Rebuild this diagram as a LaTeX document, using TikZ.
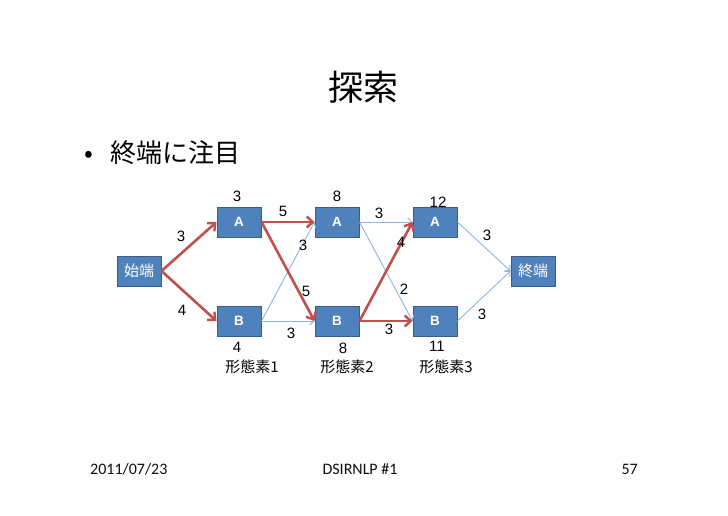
\documentclass[tikz,border=0pt]{standalone}
\usepackage{fontspec}
\setmainfont{Liberation Sans}
\newfontfamily\jp{Noto Sans CJK JP}
\newfontfamily\foot{Carlito}
\usetikzlibrary{arrows.meta}
\definecolor{boxfill}{HTML}{4F81BD}
\definecolor{boxline}{HTML}{385D8A}
\definecolor{redline}{HTML}{C0504D}
\definecolor{blueline}{HTML}{8EB4E3}
\tikzset{
  wbox/.style={draw=boxline, line width=1pt, fill=boxfill, minimum width=44pt, minimum height=30pt, inner sep=0pt, text=white},
  abbox/.style={wbox, font=\bfseries\fontsize{13.5}{13.5}\selectfont},
  endbox/.style={wbox, font=\jp\fontsize{15}{15}\selectfont},
  hot/.style={draw=redline, line width=2.6pt, -{Straight Barb[length=6pt,width=11pt,line width=2.4pt]}},
  cold/.style={draw=blueline, line width=0.9pt, -{Straight Barb[length=4pt,width=8pt]}},
  num/.style={font=\fontsize{15}{15}\selectfont, inner sep=0pt},
  lbl/.style={font=\jp\fontsize{15}{15}\selectfont, inner sep=0pt},
  ft/.style={font=\foot\fontsize{16}{16}\selectfont, inner sep=0pt, text=black!95}
}
\begin{document}
\begin{tikzpicture}[x=1pt,y=-1pt]
\useasboundingbox[fill=white] (0,0) rectangle (728,515);
% title and bullet
\node[font=\jp\fontsize{35}{35}\selectfont, inner sep=0pt] (title) at (363,87) {探索};
\node[font=\jp\fontsize{26}{26}\selectfont, inner sep=0pt, anchor=west] (bul) at (84,153) {•\hspace{17pt}終端に注目};
% nodes
\node[endbox] (s) at (139,271) {始端};
\node[abbox] (a1) at (239,222) {A};
\node[abbox] (b1) at (239,321) {B};
\node[abbox] (a2) at (337,222) {A};
\node[abbox] (b2) at (337,321) {B};
\node[abbox] (a3) at (435,222) {A};
\node[abbox] (b3) at (435,321) {B};
\node[endbox] (e) at (533,271) {終端};
% thin edges
\draw[cold] (b1.east) -- (a2.west);
\draw[cold] (b1.east) -- (b2.west);
\draw[cold] (a2.east) -- (a3.west);
\draw[cold] (a2.east) -- (b3.west);
\draw[cold] (a3.east) -- (e.west);
\draw[cold] (b3.east) -- (e.west);
% thick edges
\draw[hot] (s.east) -- (a1.west);
\draw[hot] (s.east) -- (b1.west);
\draw[hot] (a1.east) -- (a2.west);
\draw[hot] (a1.east) -- (b2.west);
\draw[hot] (b2.east) -- (a3.west);
\draw[hot] (b2.east) -- (b3.west);
% costs at nodes
\node[num] (ca1) at (237,196) {3};
\node[num] (ca2) at (337,196) {8};
\node[num] (ca3) at (438,202) {12};
\node[num] (cb1) at (237,347) {4};
\node[num] (cb2) at (343,348) {8};
\node[num] (cb3) at (437,346) {11};
% edge labels
\node[num] (l1) at (181,236) {3};
\node[num] (l2) at (182,310) {4};
\node[num] (l3) at (283,211) {5};
\node[num] (l4) at (306,291) {5};
\node[num] (l5) at (303,245) {3};
\node[num] (l6) at (291,333) {3};
\node[num] (l7) at (379,213) {3};
\node[num] (l8) at (404,289) {2};
\node[num] (l9) at (401,242) {4};
\node[num] (l10) at (389,329) {3};
\node[num] (l11) at (487,235) {3};
\node[num] (l12) at (482,314) {3};
% morpheme labels
\node[lbl] (m1) at (252,367) {形態素1};
\node[lbl] (m2) at (347,367) {形態素2};
\node[lbl] (m3) at (446,367) {形態素3};
% footer
\node[ft, anchor=west] (date) at (90,469) {2011/07/23};
\node[ft] (conf) at (360,469) {DSIRNLP \#1};
\node[ft, anchor=east] (page) at (638,469) {57};
\end{tikzpicture}
\end{document}
